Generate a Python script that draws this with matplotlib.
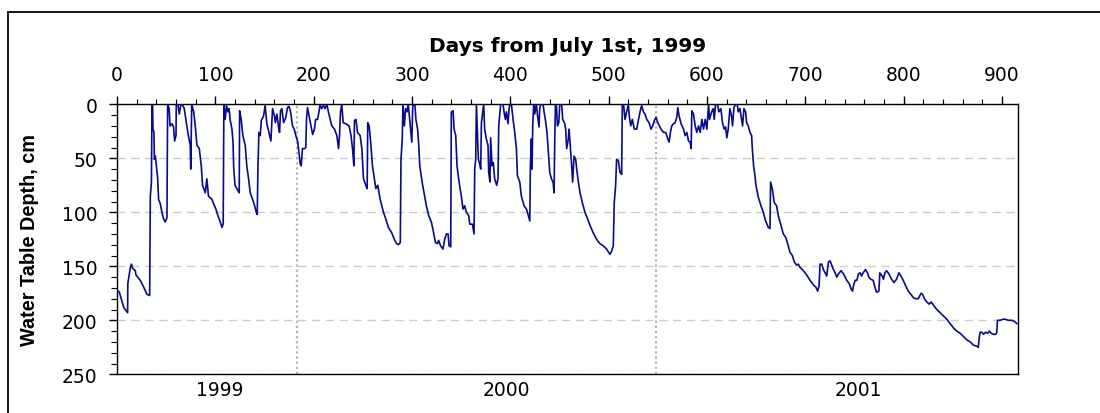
"""
Water table depth record, July 1999 - Dec 2001
"""

import numpy as np
import matplotlib.pyplot as plt
from matplotlib.ticker import MultipleLocator
from matplotlib.patches import Rectangle

# (day from July 1st 1999, water table depth in cm)
season_1999 = [(0, 172), (2.4, 174), (6.8, 188), (10.8, 193), (11, 166), (13.6, 151), (14.6, 148),
               (16, 152), (18.6, 154), (19.3, 158), (23.7, 163), (27, 169), (30.5, 176), (33.2, 177),
               (33.9, 85), (35, 72), (35.6, 0), (36.2, 0), (36.6, 23), (37.6, 26), (38, 51), (39, 48),
               (40, 57), (41.3, 68), (42.3, 88), (44, 92), (45.7, 100), (47.4, 106), (49, 109),
               (50.8, 105), (51.5, 0), (53, 4), (54, 20), (56, 18), (57.5, 21), (58.6, 34), (60, 29),
               (60.3, 0), (62, 0), (63.3, 9), (65, 0), (67, 1), (68.4, 4), (70, 14), (72, 26),
               (74.5, 38), (75, 60), (76, 0), (78, 7), (79.6, 20), (81.3, 38), (83.7, 41), (85.7, 57),
               (87, 75), (89.8, 82), (91.4, 69), (93, 85), (96.5, 88), (98.2, 92), (100.6, 97),
               (102.6, 103), (105, 109), (106.7, 114), (108, 111), (108.7, 0), (110, 14), (111.4, 1),
               (112.8, 7), (114, 4), (115, 14), (116.9, 23), (118, 35), (118.6, 57), (120, 75),
               (123, 80), (124.3, 82), (124.7, 6), (126.3, 14), (128, 29), (130.4, 38), (132, 57),
               (133.8, 69), (135.5, 82), (137.9, 88), (140, 94), (141.6, 100), (142.6, 102),
               (143.3, 60), (144.3, 26), (145.7, 29), (146.7, 15), (149, 11), (150.7, 1)]

season_1999b = [(152.4, 18), (154, 24), (156.5, 34), (158.2, 4), (160.2, 11), (161, 17), (162.6, 9),
                (164.3, 21), (165.3, 26), (166.3, 6), (167.7, 4), (169.4, 17), (171.7, 12), (173.4, 3),
                (175, 2), (176.5, 7), (178.5, 20), (180.2, 23), (181.9, 29), (183.6, 34), (184.6, 41),
                (186.3, 55), (187.3, 57), (188.6, 41), (190.7, 41), (192, 40), (192.7, 14), (193.7, 3),
                (195.4, 11), (197.4, 20), (199, 28), (200.8, 23), (202, 14), (204, 14), (205.4, 7),
                (206.5, 0), (208, 4), (210, 1), (211.5, 4), (213.4, 0), (215, 7), (216.8, 14),
                (218.5, 20), (221.2, 23), (223.6, 29), (225.3, 41), (226.3, 29), (227.3, 7), (228.6, 0),
                (230, 17), (232.7, 18), (236, 20), (238, 29), (239.5, 41), (240.9, 57), (241.5, 15),
                (243, 14), (244.6, 26), (247.3, 29), (249, 41), (250.7, 69), (253, 75), (254.4, 78),
                (255, 17), (256.4, 20), (257.7, 32), (259.8, 57), (261.8, 69), (263.2, 78), (265.2, 75),
                (267.6, 88), (271, 100), (273.3, 106), (276, 114), (279.4, 119), (282, 125),
                (284.4, 129), (286.1, 130), (288.1, 128), (288.8, 51), (290.1, 32), (290.8, 0),
                (292.2, 20), (293.5, 4), (294.9, 7), (296.2, 0)]

season_2000 = [(299.8, 35), (300.8, 1), (303, 1), (304, 14), (305.7, 23), (306.9, 38), (307.9, 57),
               (310.3, 72), (312.3, 82), (314.6, 94), (317, 103), (319.7, 109), (322, 119), (323.8, 128),
               (325.8, 129), (327.1, 126), (329.1, 131), (331.5, 134), (333.3, 125), (335, 120),
               (336.7, 120), (337.7, 131), (339.4, 132), (340, 7), (341.8, 6), (342.8, 23), (344.5, 29),
               (345.8, 57), (347.9, 72), (350.2, 85), (351.9, 97), (353.6, 94), (355.3, 100),
               (357.7, 103), (358.7, 111), (361.4, 111), (363.1, 120), (363.8, 60), (364.8, 51),
               (365.5, 0), (366.5, 26), (367.5, 51), (368.8, 55), (369.9, 60), (370.6, 17), (371.9, 7),
               (372.9, 0), (373.9, 23), (375.6, 32), (377.3, 38), (378, 63), (379.3, 72), (380, 31),
               (381.4, 57), (382.7, 54), (384.1, 69), (386.1, 75), (387.5, 69), (388.2, 20), (389.5, 7),
               (390.2, 0), (392.6, 0), (393.6, 7), (395, 14), (396, 7), (397.7, 18), (398.7, 4),
               (399.7, 0), (401.1, 0), (402.8, 14), (404.5, 26), (406.2, 41), (407.2, 66), (409.6, 72),
               (411.2, 85), (414, 94), (416.4, 97), (418, 102), (419.8, 108), (420.4, 57), (421.4, 32),
               (422.1, 60), (422.8, 20), (423.8, 0), (424.8, 9), (426.5, 0), (427.5, 9), (429.2, 21),
               (429.9, 4), (430.9, 0), (433.3, 0), (434.3, 7), (435.6, 14), (437.3, 26), (438.4, 41),
               (440.1, 63), (441.8, 69), (443.5, 72), (444.5, 82), (445.2, 32), (445.9, 0), (446.9, 1),
               (447.9, 20), (449.3, 17), (450.3, 0)]

season_2000b = [(452.2, 0), (453.3, 14), (455, 17), (456.3, 23), (457.3, 41), (459, 32), (459.7, 23),
                (460.7, 35), (462.4, 57), (463.4, 72), (464.8, 48), (466.5, 51), (467.5, 60),
                (469.2, 72), (470.9, 82), (473.2, 91), (475.9, 100), (478.6, 106), (481, 112),
                (484.3, 119), (487.7, 125), (491.1, 129), (494.5, 131), (497.9, 134), (501.3, 139),
                (503, 136), (504.7, 131), (505.7, 91), (507.1, 75), (508.1, 51), (509.8, 52),
                (511.5, 63), (513.2, 65), (513.9, 0), (515.2, 0), (516.6, 14), (518.3, 7), (520, 0),
                (521, 11), (522.4, 20), (524.1, 14), (526.1, 23), (528.5, 23), (530.2, 15), (531.9, 7),
                (533.6, 1), (535.3, 7), (537, 9), (538.7, 14), (541.1, 17), (543.1, 23), (544.8, 20),
                (546.5, 15), (548.2, 12), (549.9, 17), (551.6, 20), (553.3, 23), (555.7, 26),
                (558.1, 26), (560.1, 32), (561.5, 35), (562.8, 26), (564.2, 20), (565.9, 18),
                (567.6, 17), (569.3, 12), (570.3, 3), (571.7, 11), (573.7, 18), (576.1, 23),
                (577.8, 29), (579.5, 26), (581.2, 34), (582.9, 35), (583.9, 41), (584.6, 6), (586.3, 9),
                (588, 20), (589.7, 26), (591.4, 20), (593.1, 26), (594.8, 14), (596.5, 23), (598.2, 14),
                (599.9, 23), (601.6, 0), (602.6, 14)]

season_2001 = [(604.7, 7), (606.4, 4), (607.4, 14), (608.7, 0), (610.7, 0), (612.1, 7), (614.1, 4),
               (615.8, 17), (617.5, 23), (618.9, 21), (620.2, 31), (621.6, 23), (623.3, 4), (625, 11),
               (626, 20), (627.4, 3), (629.1, 0), (630.8, 0), (631.8, 7), (633.5, 4), (635.2, 14),
               (636.2, 20), (637.6, 4), (639.3, 7), (640.3, 17), (642, 20), (643.7, 26), (645.4, 29),
               (646.1, 41), (647.4, 57), (648.8, 66), (649.8, 75), (652.2, 86), (654.9, 94),
               (657.3, 100), (659.6, 108), (662.4, 114), (664.1, 115), (664.7, 72), (666.4, 78),
               (668.4, 91), (670.8, 94), (672.5, 103), (675.2, 112), (677.6, 120), (680, 123),
               (682, 129), (684.4, 137), (686.8, 140), (688.8, 146), (691.2, 149), (692.9, 148),
               (694.6, 151), (697, 153), (699.7, 156), (702.1, 159), (704.8, 163), (706.5, 165),
               (708.9, 168), (710.6, 169), (712.6, 173), (714, 168), (715, 148), (716.7, 148),
               (718.4, 153), (720.1, 156), (721.8, 159), (723.5, 146), (725.2, 145), (726.9, 149),
               (728.6, 153), (730.3, 156), (732, 160), (733.7, 157), (736.4, 154), (738.8, 157),
               (740.5, 160), (742.2, 163), (744.6, 166), (746.6, 171), (748, 173), (749, 168),
               (750.7, 163), (752.4, 163), (754.1, 157), (755.8, 156)]

season_2001b = [(757.1, 159), (758.8, 156), (761.2, 153), (763.2, 156), (764.6, 160), (766.6, 162),
                (769, 163), (770.7, 169), (772.4, 174), (774.8, 173), (775.8, 156), (778.2, 159),
                (779.5, 162), (780.9, 156), (782.6, 154), (785, 157), (787.7, 162), (790.1, 165),
                (792.8, 162), (795.2, 156), (797.2, 159), (799.6, 163), (802, 168), (804.7, 173),
                (807.4, 176), (809.8, 179), (812.2, 180), (814.9, 180), (816.6, 177), (817.7, 175),
                (819.4, 176), (821.1, 180), (823.5, 183), (825.9, 185), (827.9, 183), (830.3, 186),
                (833.7, 190), (837.1, 193), (840.5, 196), (843.9, 199), (847.3, 203), (850.6, 207),
                (854, 210), (857.4, 212), (860.8, 215), (864.2, 218), (867.6, 220), (871, 223),
                (874.4, 224), (876, 225), (876.7, 217), (877.8, 211), (879.5, 211), (881.2, 213),
                (883.5, 211), (885.6, 212), (887.3, 210), (889, 212), (891.3, 213), (893.7, 213),
                (894.7, 211), (895.4, 200), (898.1, 200), (901.5, 199), (903.2, 199), (906.6, 200),
                (910, 200), (912.7, 201), (915.1, 203)]

year_starts = [183, 548]            # Jan 1st 2000 / 2001 (day number)
years = ['1999', '2000', '2001']
year_label_days = [104, 396, 754]

record = np.array(season_1999 + season_1999b + season_2000 + season_2000b
                  + season_2001 + season_2001b)
days = record[:, 0]
depth = record[:, 1]

plt.rcParams['font.family'] = 'DejaVu Sans'
plt.rcParams['font.size'] = 13.5

fig = plt.figure(figsize=(11, 4.14), dpi=100)
ax = fig.add_axes([117/1100, 1 - 375.3/414, 901/1100, 270/414])

# outer frame around the whole graphic
fig.add_artist(Rectangle((8/1100, -0.1), 1.2, 0.1 + 1 - 13/414, transform=fig.transFigure,
                         fill=False, ec='black', lw=1.3))

ax.plot(days, depth, color='#0a0a8c', lw=1.2, zorder=3)

for d in year_starts:
    ax.axvline(d, color='#b4b4b4', ls=(0, (1, 1.3)), lw=1.6, zorder=2)

ax.set_xlim(0, 916.3)
ax.set_ylim(250, 0)

ax.xaxis.tick_top()
ax.xaxis.set_major_locator(MultipleLocator(100))
ax.xaxis.set_minor_locator(MultipleLocator(20))
ax.yaxis.set_major_locator(MultipleLocator(50))
ax.yaxis.set_minor_locator(MultipleLocator(10))
ax.tick_params(axis='x', which='major', direction='out', length=5.5, width=1, pad=9,
               top=True, bottom=False, labeltop=True, labelbottom=False)
ax.tick_params(axis='x', which='minor', direction='out', length=3.5, width=0.8,
               top=True, bottom=False)
ax.tick_params(axis='y', which='major', direction='out', length=6, width=1, pad=8, right=False)
ax.tick_params(axis='y', which='minor', direction='out', length=4, width=0.8, right=False)

ax.grid(axis='y', which='major', color='#cccccc', ls=(0, (6, 4)), lw=1.0)
ax.set_axisbelow(True)
for s in ax.spines.values():
    s.set_linewidth(1.0)

for lab, d in zip(years, year_label_days):
    ax.text(d, -0.058, lab, transform=ax.get_xaxis_transform(), ha='center', va='center')

ax.text(0.5, 1 + (105.3 - 47)/270, 'Days from July 1st, 1999', transform=ax.transAxes,
        ha='center', va='center', fontweight='bold', fontsize=14.5)
ax.text((30 - 117)/901, 0.5, 'Water Table Depth, cm', transform=ax.transAxes, rotation=90,
        ha='center', va='center', fontweight='bold', fontsize=14.3, family='Liberation Sans')

plt.savefig('out.png', dpi=100)
